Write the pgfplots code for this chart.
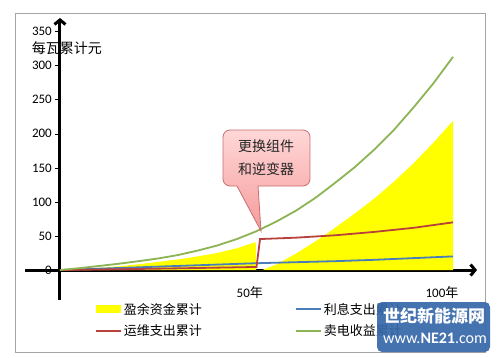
\documentclass[border=0pt]{standalone}
\usepackage{fontspec}
\setmainfont{Carlito}
\newfontfamily\cjk{Noto Sans CJK SC}
\usepackage{pgfplots}
\pgfplotsset{compat=1.18}
\usetikzlibrary{arrows.meta}
\definecolor{cgreen}{RGB}{140,180,82}
\definecolor{cred}{RGB}{185,65,60}
\definecolor{cblue}{RGB}{74,126,187}
\definecolor{cyel}{RGB}{255,255,0}
\definecolor{cframe}{RGB}{165,165,165}
\definecolor{cwm}{RGB}{55,105,170}
\begin{document}
\begin{tikzpicture}[x=1pt,y=1pt]
\path[fill=white] (0,0) rectangle (500,357);
\draw[cframe, line width=1pt] (15,5) rectangle (485,343);
\begin{axis}[
  at={(25pt,57pt)}, anchor=south west,
  scale only axis, width=452pt, height=282pt,
  xmin=-8.9, xmax=106.1, ymin=-44, ymax=370,
  axis lines=middle,
  axis line style={draw=black, line width=3pt},
  x axis line style={-{Straight Barb[length=4.5pt,width=11pt]}},
  y axis line style={-{Straight Barb[length=4.5pt,width=11pt]}},
  hide obscured y ticks=false, hide obscured x ticks=false,
  ytick={0,50,100,150,200,250,300,350},
  xtick={48.3,97.2}, xticklabels={50{\cjk 年},100{\cjk 年}},
  x tick style={draw=none},
  y tick style={black, line width=0.6pt},
  tick align=outside, major tick length=5pt,
  /pgf/number format/assume math mode=true,
  tick label style={font=\fontsize{13}{15}\selectfont},
  yticklabel style={anchor=east, inner sep=1pt, xshift=-2pt},
  xticklabel style={anchor=north, yshift=-8pt},
  legend cell align=left,
  legend style={at={(0.155,-0.005)}, anchor=north west, draw=none, fill=none,
    legend columns=2, font=\fontsize{13}{15}\selectfont\cjk,
    /tikz/every even column/.append style={column sep=92pt},
    row sep=6pt, inner sep=0pt, nodes={inner sep=1.5pt}},
]
\addplot[draw=none, fill=cyel, legend image code/.code={\fill[cyel] (0pt,-4pt) rectangle (25pt,4pt);}] coordinates {
(0,0) (5,1.5) (10,3) (15,5.5) (20,8.5) (25,12) (30,15.5) (35,20) (40,25) (45,32) (49.8,41) (49.9,0)
(51.5,0) (55,8) (60,24) (65,42) (70,62) (75,83) (80,105) (85,130) (90,157) (95,187) (100,219)
} \closedcycle;
\addlegendentry{盈余资金累计}
\addplot[draw=cblue, line width=1.8pt, legend image code/.code={\draw[draw=cblue, line width=2pt] (0pt,0pt) -- (25pt,0pt);}] coordinates {
(0,0) (10,2) (20,4) (30,6) (40,8) (50,10) (60,11.5) (70,13) (80,15) (90,17.5) (100,20)
};
\addlegendentry{利息支出累计}
\addplot[draw=cred, line width=1.8pt, legend image code/.code={\draw[draw=cred, line width=2pt] (0pt,0pt) -- (25pt,0pt);}] coordinates {
(0,0) (10,0.8) (20,1.6) (30,2.5) (40,3.5) (50,4.5) (50.9,45.5) (60,47.5) (70,51) (80,56) (90,62) (100,70)
};
\addlegendentry{运维支出累计}
\addplot[draw=cgreen, line width=1.8pt, legend image code/.code={\draw[draw=cgreen, line width=2pt] (0pt,0pt) -- (25pt,0pt);}] coordinates {
(0,0) (5,2.8) (10,6) (15,9.3) (20,13) (25,17) (30,22) (35,28.5) (40,36) (45,45.5) (50,57) (55,71) (60,87) (65,106) (70,128) (75,151) (80,177) (85,206) (90,239) (95,274) (100,313)
};
\addlegendentry{卖电收益累计}
\node[anchor=west, inner sep=0pt, font=\fontsize{14}{16}\selectfont\cjk] at (axis cs:-7.2,326) {每瓦累计元};
\end{axis}
% callout
\draw[draw={rgb,255:red,200;green,110;blue,110}, line width=0.8pt, top color={rgb,255:red,255;green,215;blue,215}, bottom color={rgb,255:red,246;green,155;blue,155}]
  (237,171) [sharp corners]-- (261,126) -- (258,171) [rounded corners=7pt] -- (310,171) -- (310,227) -- (223,227) -- (223,171) [sharp corners]-- cycle;
\node[align=center, font=\fontsize{14}{23}\selectfont\cjk, text=black!85] at (266,199) {更换组件\\和逆变器};
% watermark
\fill[cwm, opacity=0.93, rounded corners=5pt] (377,5) rectangle (490,55);
\node[text=white, font=\fontsize{17}{19}\selectfont\cjk\bfseries] at (434,41) {世纪新能源网};
\node[text=white, font=\fontsize{16}{18}\selectfont] at (435,19) {www.\textbf{NE21}.com};
\end{tikzpicture}
\end{document}
